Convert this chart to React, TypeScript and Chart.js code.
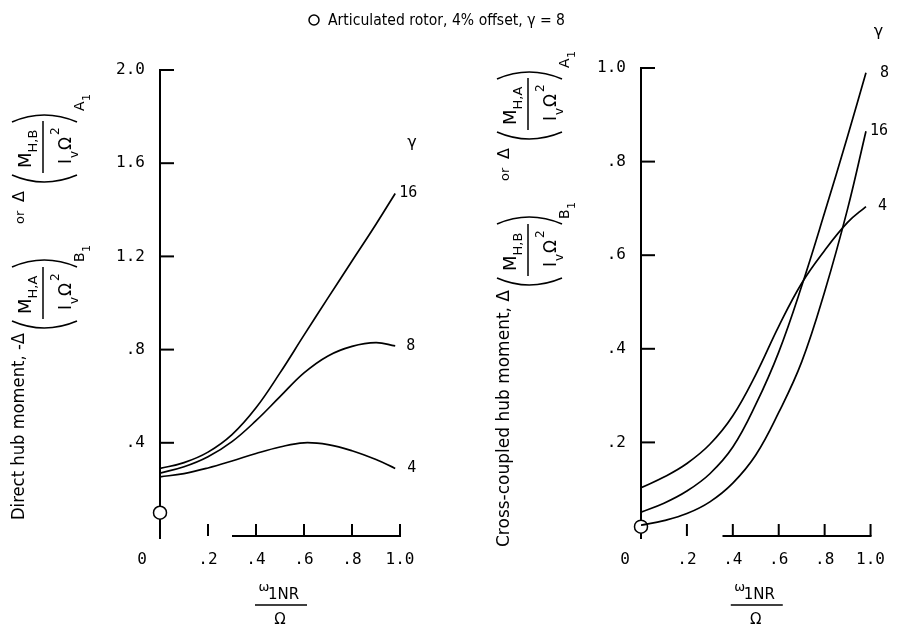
import React, { useEffect, useRef } from "react";
import { Chart, registerables } from "chart.js";

Chart.register(...registerables);

// ---------- data ----------
const xValues = [0, 0.1, 0.2, 0.3, 0.4, 0.5, 0.6, 0.7, 0.8, 0.9, 0.98];

// Direct hub moment (left panel), gamma = 16, 8, 4
const directGamma16 = [0.29, 0.315, 0.36, 0.435, 0.55, 0.7, 0.862, 1.022, 1.18, 1.338, 1.47];
const directGamma8 = [0.27, 0.297, 0.34, 0.405, 0.495, 0.598, 0.7, 0.773, 0.814, 0.83, 0.816];
const directGamma4 = [0.254, 0.268, 0.292, 0.322, 0.354, 0.382, 0.4, 0.392, 0.366, 0.328, 0.29];
const directLabels = ["16", "8", "4"];
const directMarker = { x: 0, y: 0.1 };

// Cross-coupled hub moment (right panel), gamma = 4, 8, 16
const crossGamma4 = [0.103, 0.126, 0.155, 0.196, 0.257, 0.345, 0.448, 0.54, 0.61, 0.67, 0.704];
const crossGamma8 = [0.051, 0.07, 0.096, 0.133, 0.19, 0.281, 0.393, 0.534, 0.691, 0.854, 0.99];
const crossGamma16 = [0.023, 0.033, 0.048, 0.073, 0.113, 0.173, 0.264, 0.372, 0.522, 0.699, 0.865];
const crossLabels = ["4", "8", "16"];
const crossMarker = { x: 0, y: 0.02 };

const xTickLabels = ["0", ".2", ".4", ".6", ".8", "1.0"];
const directYTickLabels = ["", ".4", ".8", "1.2", "1.6", "2.0"];
const crossYTickLabels = ["", ".2", ".4", ".6", ".8", "1.0"];

const legendText = "Articulated rotor, 4% offset, \u03B3 = 8";

// ---------- styling ----------
const MONO = '"DejaVu Sans Mono", monospace';
const SANS = '"DejaVu Sans", sans-serif';
const INK = "#000";

type Panel = {
  key: string;
  series: number[][];
  labels: string[];
  labelOffsets: number[];
  marker: { x: number; y: number };
  yMax: number;
  yStep: number;
  yTickLabels: string[];
  yAxisWidth: number;
  padTop: number;
  padRight: number;
  xAxisFrom: number;
  zeroOffset: number;
  gammaDx: number;
  gammaY: number;
  title: { main: string; mainLen: number; cx: number; e: number; sub1: string; sub2: string; out1: string; out2: string };
  legend: boolean;
};

const LEFT: Panel = {
  key: "left",
  series: [directGamma16, directGamma8, directGamma4],
  labels: directLabels,
  labelOffsets: [4, 11, 12],
  marker: directMarker,
  yMax: 2,
  yStep: 0.4,
  yTickLabels: directYTickLabels,
  yAxisWidth: 160,
  padTop: 70,
  padRight: 499,
  xAxisFrom: 0.3,
  zeroOffset: 18,
  gammaDx: 12,
  gammaY: 143,
  title: { main: "Direct hub moment, -\u0394", mainLen: 187, cx: 20, e: 333, sub1: "H,A", sub2: "H,B", out1: "B", out2: "A" },
  legend: true,
};

const RIGHT: Panel = {
  key: "right",
  series: [crossGamma4, crossGamma8, crossGamma16],
  labels: crossLabels,
  labelOffsets: [12, 14, 4],
  marker: crossMarker,
  yMax: 1,
  yStep: 0.2,
  yTickLabels: crossYTickLabels,
  yAxisWidth: 191,
  padTop: 68,
  padRight: 17,
  xAxisFrom: 0.355,
  zeroOffset: 16,
  gammaDx: 8,
  gammaY: 32,
  title: { main: "Cross-coupled hub moment, \u0394", mainLen: 257, cx: 55, e: 290, sub1: "H,B", sub2: "H,A", out1: "B", out2: "A" },
  legend: false,
};

function drawYTitle(ctx: CanvasRenderingContext2D, t: Panel["title"]) {
  ctx.save();
  ctx.translate(t.cx, t.e);
  ctx.rotate(-Math.PI / 2);
  ctx.fillStyle = INK;
  ctx.strokeStyle = INK;
  ctx.textBaseline = "middle";
  const txt = (s: string, u: number, v: number, size: number, align: CanvasTextAlign = "left", maxW?: number) => {
    ctx.font = `${size}px ${SANS}`;
    ctx.textAlign = align;
    if (maxW) ctx.fillText(s, u, v, maxW);
    else ctx.fillText(s, u, v);
  };
  const paren = (u0: number, uc: number) => {
    ctx.beginPath();
    ctx.moveTo(u0, -8);
    ctx.quadraticCurveTo(uc, 24, u0, 57);
    ctx.lineWidth = 1.6;
    ctx.stroke();
  };
  const frac = (u: number, sub: string) => {
    txt("M", u, 6, 18);
    ctx.font = `18px ${SANS}`;
    const wM = ctx.measureText("M").width;
    txt(sub, u + wM, 14, 13);
    ctx.beginPath();
    ctx.moveTo(u - 5, 23);
    ctx.lineTo(u + 47, 23);
    ctx.lineWidth = 1.5;
    ctx.stroke();
    txt("I", u + 4, 47, 17);
    txt("v", u + 10, 55, 12);
    txt("\u03A9", u + 18, 47, 17);
    txt("2", u + 33, 36, 12);
  };
  txt(t.main, 0, 0, 17, "right", t.mainLen);
  paren(12, -2);
  frac(19, t.sub1);
  paren(66, 80);
  txt(t.out1, 71, 60, 14);
  txt("1", 81, 67, 11);
  txt("or", 109, 1, 13);
  txt("\u0394", 131, 0, 16);
  paren(158, 144);
  frac(165, t.sub2);
  paren(211, 225);
  txt(t.out2, 222, 60, 14);
  txt("1", 232, 67, 11);
  ctx.restore();
}

function decor(p: Panel) {
  return {
    id: "decor_" + p.key,
    beforeDatasetsDraw(chart: any) {
      const ctx: CanvasRenderingContext2D = chart.ctx;
      const xs = chart.scales.x;
      const ys = chart.scales.y;
      const x0 = xs.getPixelForValue(0);
      const y0 = ys.getPixelForValue(0);
      const yTop = ys.getPixelForValue(p.yMax);
      ctx.save();
      ctx.strokeStyle = INK;
      ctx.lineWidth = 2;
      const line = (a: number, b: number, c: number, d: number) => {
        ctx.beginPath();
        ctx.moveTo(a, b);
        ctx.lineTo(c, d);
        ctx.stroke();
      };
      line(x0, yTop - 1, x0, y0 + 3);
      line(xs.getPixelForValue(p.xAxisFrom), y0, xs.getPixelForValue(1) + 1, y0);
      ys.ticks.forEach((t: any) => {
        if (t.value === 0) return;
        const py = ys.getPixelForValue(t.value);
        line(x0, py, x0 + 14, py);
      });
      xs.ticks.forEach((t: any) => {
        if (t.value === 0) return;
        const px = xs.getPixelForValue(t.value);
        line(px, y0, px, y0 - 12);
      });
      ctx.restore();
    },
    afterDraw(chart: any) {
      const ctx: CanvasRenderingContext2D = chart.ctx;
      const xs = chart.scales.x;
      const ys = chart.scales.y;
      const area = chart.chartArea;
      ctx.save();
      ctx.fillStyle = INK;
      ctx.strokeStyle = INK;
      // "0" origin label on x axis
      ctx.font = `16px ${MONO}`;
      ctx.textAlign = "center";
      ctx.textBaseline = "middle";
      ctx.fillText(xTickLabels[0], xs.getPixelForValue(0) - p.zeroOffset, ys.getPixelForValue(0) + 24);
      // curve labels
      ctx.font = `15px ${MONO}`;
      ctx.textAlign = "left";
      p.labels.forEach((lab, i) => {
        const meta = chart.getDatasetMeta(i);
        const last = meta.data[meta.data.length - 1];
        ctx.fillText(lab, last.x + p.labelOffsets[i], last.y);
      });
      ctx.font = `16px ${SANS}`;
      ctx.textAlign = "center";
      ctx.fillText("\u03B3", area.right + p.gammaDx, p.gammaY);
      // x axis title: omega_1NR / Omega
      const cx = (area.left + area.right) / 2;
      const yb = ys.getPixelForValue(0);
      ctx.font = `13px ${SANS}`;
      ctx.textAlign = "center";
      ctx.fillText("\u03C9", cx - 16, yb + 52);
      ctx.font = `15px ${SANS}`;
      ctx.textAlign = "left";
      ctx.fillText("1NR", cx - 12, yb + 59);
      ctx.beginPath();
      ctx.lineWidth = 1.5;
      ctx.moveTo(cx - 25, yb + 69);
      ctx.lineTo(cx + 27, yb + 69);
      ctx.stroke();
      ctx.textAlign = "center";
      ctx.fillText("\u03A9", cx, yb + 84);
      // y axis title
      drawYTitle(ctx, p.title);
      // top legend
      if (p.legend) {
        ctx.beginPath();
        ctx.lineWidth = 1.5;
        ctx.arc(314, 20, 5, 0, Math.PI * 2);
        ctx.stroke();
        ctx.font = `15px ${SANS}`;
        ctx.textAlign = "left";
        ctx.textBaseline = "middle";
        ctx.fillText(legendText, 328, 21, 237);
      }
      ctx.restore();
    },
  };
}

function buildConfig(p: Panel): any {
  return {
    type: "line",
    data: {
      datasets: [
        ...p.series.map((ys, i) => ({
          label: p.labels[i],
          data: xValues.map((x, j) => ({ x, y: ys[j] })),
          borderColor: INK,
          borderWidth: 1.7,
          pointRadius: 0,
          fill: false,
          tension: 0.4,
        })),
        {
          label: "marker",
          data: [p.marker],
          showLine: false,
          pointRadius: 6.5,
          pointBackgroundColor: "#fff",
          pointBorderColor: INK,
          pointBorderWidth: 1.5,
          clip: false,
        },
      ],
    },
    options: {
      responsive: false,
      animation: false,
      layout: { padding: { left: 0, top: p.padTop, right: p.padRight, bottom: 0 } },
      plugins: { legend: { display: false }, tooltip: { enabled: false } },
      scales: {
        x: {
          type: "linear",
          min: 0,
          max: 1,
          position: "bottom",
          grid: { display: false, drawTicks: false },
          border: { display: false },
          ticks: {
            stepSize: 0.2,
            padding: 14,
            color: INK,
            autoSkip: false,
            maxRotation: 0,
            font: { family: MONO, size: 16 },
            callback: (_v: any, i: number) => (i === 0 ? "" : xTickLabels[i]),
          },
          afterFit: (s: any) => {
            s.height = 95;
          },
        },
        y: {
          type: "linear",
          min: 0,
          max: p.yMax,
          grid: { display: false, drawTicks: false },
          border: { display: false },
          ticks: {
            stepSize: p.yStep,
            padding: 15,
            color: INK,
            autoSkip: false,
            font: { family: MONO, size: 16 },
            callback: (_v: any, i: number) => p.yTickLabels[i],
          },
          afterFit: (s: any) => {
            s.width = p.yAxisWidth;
          },
        },
      },
    },
    plugins: [decor(p)],
  };
}

export default function App() {
  const leftRef = useRef<HTMLCanvasElement | null>(null);
  const rightRef = useRef<HTMLCanvasElement | null>(null);
  useEffect(() => {
    const c1 = new Chart(leftRef.current as HTMLCanvasElement, buildConfig(LEFT));
    const c2 = new Chart(rightRef.current as HTMLCanvasElement, buildConfig(RIGHT));
    return () => {
      c1.destroy();
      c2.destroy();
    };
  }, []);
  return (
    <div style={{ position: "absolute", left: 0, top: 0, width: 899, height: 631, background: "#fff" }}>
      <canvas ref={leftRef} width={899} height={631} style={{ position: "absolute", left: 0, top: 0, width: 899, height: 631 }} />
      <canvas ref={rightRef} width={449} height={631} style={{ position: "absolute", left: 450, top: 0, width: 449, height: 631 }} />
    </div>
  );
}
